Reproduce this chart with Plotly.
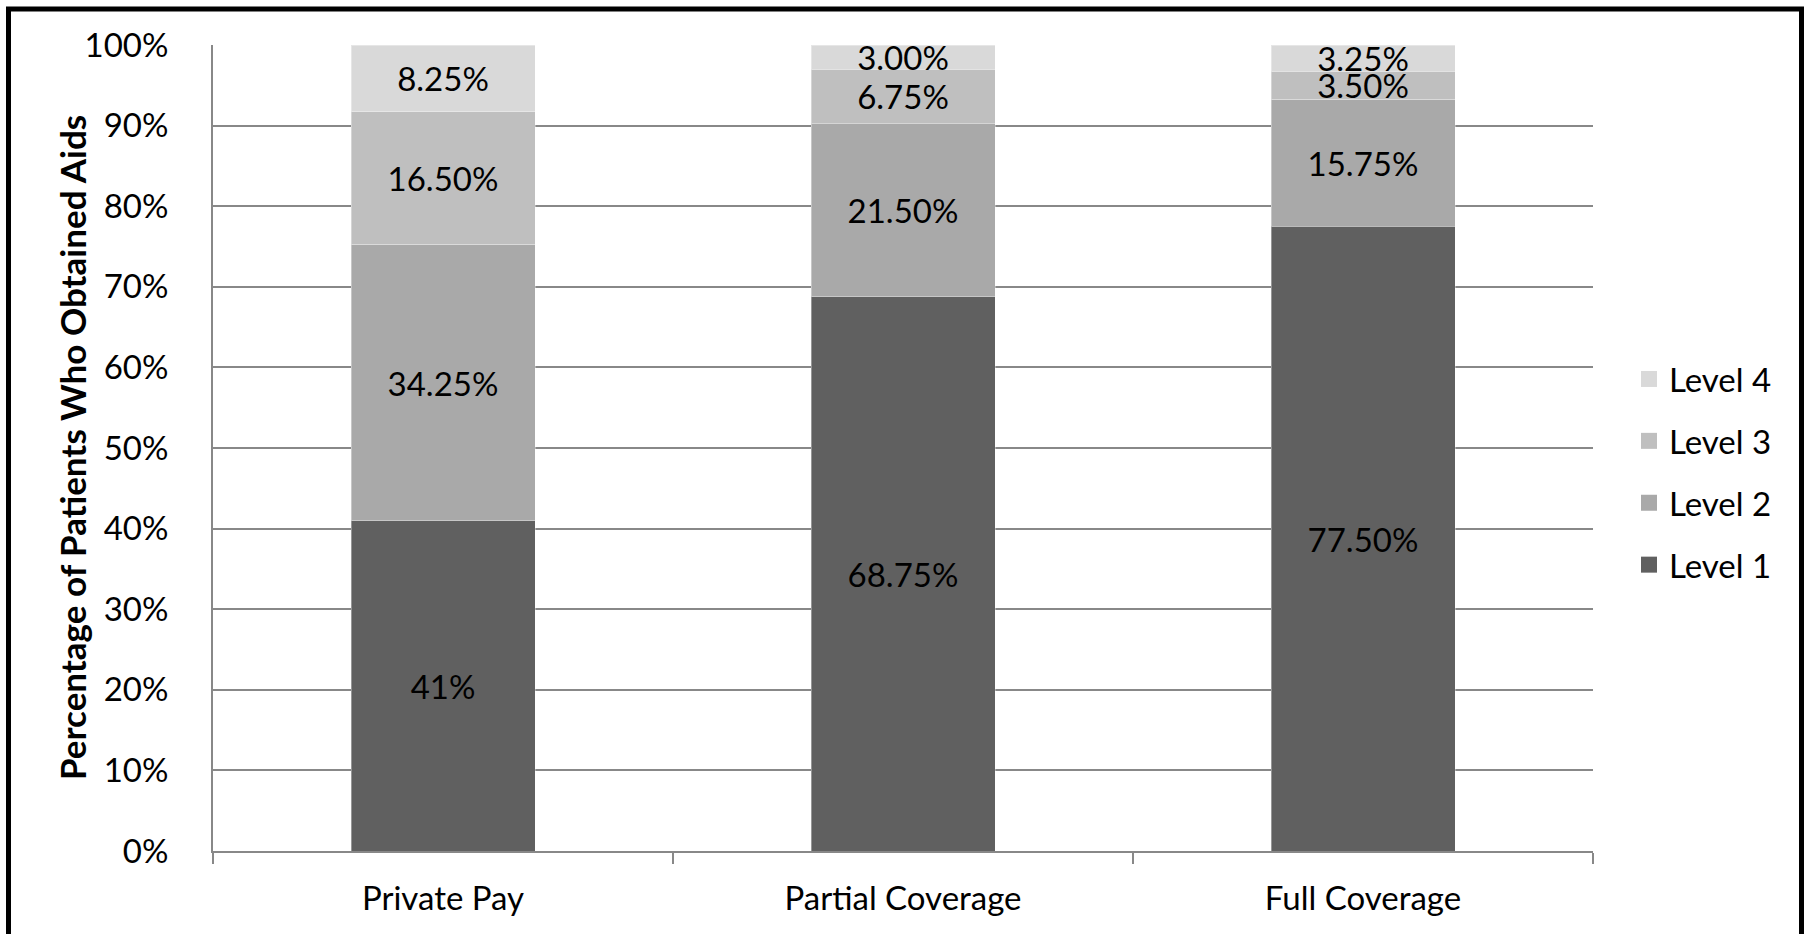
import plotly.graph_objects as go

# Payment categories and share of patients at each aid level (percent)
categories = ["Private Pay", "Partial Coverage", "Full Coverage"]
level1 = [41.0, 68.75, 77.50]
level2 = [34.25, 21.50, 15.75]
level3 = [16.50, 6.75, 3.50]
level4 = [8.25, 3.00, 3.25]

level1_text = ["41%", "68.75%", "77.50%"]
level2_text = ["34.25%", "21.50%", "15.75%"]
level3_text = ["16.50%", "6.75%", "3.50%"]
level4_text = ["8.25%", "3.00%", "3.25%"]

y_ticks = [0, 10, 20, 30, 40, 50, 60, 70, 80, 90, 100]

FONT = "Lato"
FS = 33
GRID = "#888888"

series = [
    ("Level 1", level1, level1_text, "#606060"),
    ("Level 2", level2, level2_text, "#a9a9a9"),
    ("Level 3", level3, level3_text, "#bfbfbf"),
    ("Level 4", level4, level4_text, "#d9d9d9"),
]

fig = go.Figure()
for name, vals, txt, color in series:
    fig.add_trace(go.Bar(
        x=categories, y=vals, name=name, text=txt,
        textposition="inside", insidetextanchor="middle",
        textfont=dict(family=FONT, size=FS, color="#000000"),
        marker=dict(color=color, line=dict(color="rgba(255,255,255,0.35)", width=1)),
        showlegend=False, hoverinfo="skip", cliponaxis=False,
    ))

# Legend entries with larger square swatches, highest level listed first
for name, vals, txt, color in reversed(series):
    fig.add_trace(go.Scatter(
        x=[None], y=[None], mode="markers", name=name, legendgroup=name,
        marker=dict(symbol="square", size=16, color=color),
    ))

W, H = 1806, 934
L, R, T, B = 213, 213, 45, 83
pw, ph = W - L - R, H - T - B

def px_x(v):
    return (v - L) / pw

def px_y(v):
    return (H - B - v) / ph

fig.update_layout(
    width=W, height=H,
    margin=dict(l=L, r=R, t=T, b=B, autoexpand=False),
    paper_bgcolor="white", plot_bgcolor="white",
    barmode="stack", bargap=0.6,
    font=dict(family=FONT, size=FS, color="#000000"),
    uniformtext=dict(minsize=FS, mode="show"),
    legend=dict(
        x=px_x(1629), xanchor="left", y=px_y(472), yanchor="middle",
        traceorder="grouped", tracegroupgap=16,
        font=dict(family=FONT, size=FS, color="#000000"),
        bgcolor="rgba(0,0,0,0)", itemclick=False,
    ),
    xaxis=dict(
        showline=True, linecolor=GRID, linewidth=2,
        ticks="outside", tickson="boundaries", ticklen=11, tickwidth=2, tickcolor=GRID,
        ticklabelstandoff=17,
        tickfont=dict(family=FONT, size=FS, color="#000000"),
        showgrid=False,
    ),
    yaxis=dict(
        range=[0, 100], tickvals=y_ticks, ticktext=[f"{v}%" for v in y_ticks],
        showline=True, linecolor=GRID, linewidth=2,
        showgrid=True, gridcolor=GRID, gridwidth=2, zeroline=False,
        ticks="", ticklabelstandoff=36,
        tickfont=dict(family=FONT, size=FS, color="#000000"),
    ),
    annotations=[dict(
        text="<b>Percentage of Patients Who Obtained Aids</b>",
        xref="paper", yref="paper", x=px_x(72), y=0.5,
        xanchor="center", yanchor="middle", textangle=-90, showarrow=False,
        font=dict(family=FONT, size=35, color="#000000"),
    )],
    shapes=[dict(
        type="rect", xref="paper", yref="paper",
        x0=px_x(8.5), x1=px_x(1801.5), y0=px_y(940), y1=px_y(9),
        line=dict(color="#000000", width=5), fillcolor="rgba(0,0,0,0)",
    )],
)

fig.write_html("out.html")
